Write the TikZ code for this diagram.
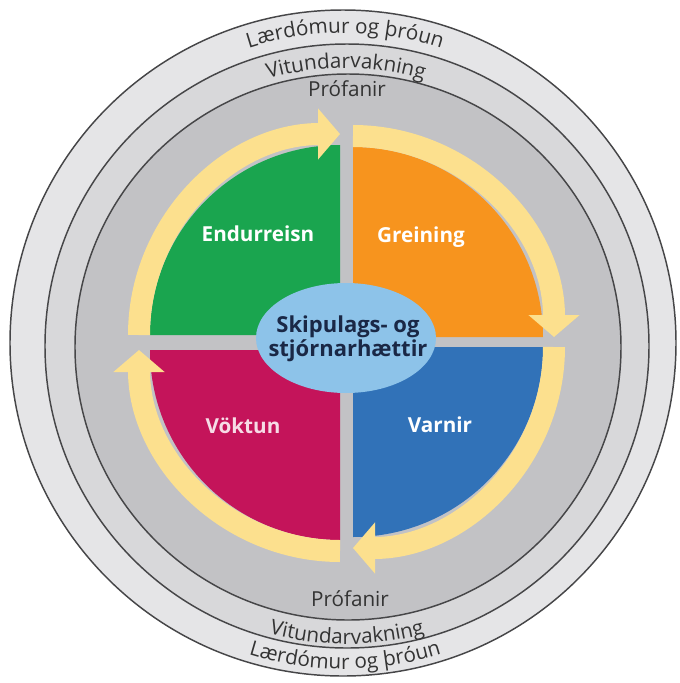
\documentclass[tikz,border=0pt]{standalone}
\usepackage{fontspec}
\setmainfont{Open Sans}
\usetikzlibrary{arrows.meta,decorations.text}

\definecolor{ringouter}{RGB}{229,229,231}
\definecolor{ringmid}{RGB}{216,216,218}
\definecolor{ringinner}{RGB}{194,194,197}
\definecolor{ringline}{RGB}{70,70,72}
\definecolor{qgreen}{RGB}{26,165,79}
\definecolor{qorange}{RGB}{247,148,30}
\definecolor{qblue}{RGB}{49,114,184}
\definecolor{qmagenta}{RGB}{196,20,90}
\definecolor{cyclearrow}{RGB}{252,224,142}
\definecolor{hubfill}{RGB}{141,195,233}
\definecolor{hubtext}{RGB}{26,40,70}

\tikzset{every picture/.style={line width=0.75pt}}
\tikzset{
  ring/.style={draw=ringline, line width=1.1pt},
  cyclearc/.style={draw=cyclearrow, line width=16.5pt,
    -{Triangle[length=16.5pt,width=37.5pt]}},
  quadlabel/.style={font=\fontsize{15.5}{18}\selectfont\bfseries, text=white, inner sep=0.75pt},
  ringtext/.style={decorate, decoration={text along path, text align=center,
    text color=black!80}},
}
\newcommand{\ringfont}{\fontsize{15.5}{17}\selectfont}

\begin{document}
\begin{tikzpicture}[x=0.75pt,y=0.75pt,yscale=-1,xscale=1]
\useasboundingbox (0,0) rectangle (680,683);

%Rings
\draw [ring, fill=ringouter] (343,343) circle [radius=333];
\draw [ring, fill=ringmid] (347,346) circle [radius=302];
\draw [ring, fill=ringinner] (348,347) circle [radius=273];

%Quadrants
\fill [qgreen] (340,335) -- ++(180:190) arc [start angle=180, end angle=270, radius=190] -- cycle;
\fill [qorange] (353,337) -- ++(270:190) arc [start angle=270, end angle=360, radius=190] -- cycle;
\fill [qblue] (353,347) -- ++(0:190) arc [start angle=0, end angle=90, radius=190] -- cycle;
\fill [qmagenta] (340,350) -- ++(90:190) arc [start angle=90, end angle=180, radius=190] -- cycle;

%Cycle arrows
\draw [cyclearc] (340,335) ++(180:201) arc [start angle=180, end angle=270, radius=201];
\draw [cyclearc] (353,337) ++(270:201) arc [start angle=270, end angle=360, radius=201];
\draw [cyclearc] (353,347) ++(0:201) arc [start angle=0, end angle=90, radius=201];
\draw [cyclearc] (340,350) ++(90:201) arc [start angle=90, end angle=180, radius=201];

%Hub
\draw [fill=hubfill, draw=none] (346,338) ellipse [x radius=90, y radius=55];
\node [inner sep=0.75pt, align=center, text=hubtext, font=\fontsize{16.5}{18}\selectfont\bfseries] (hub) at (348,339) {Skipulags- og\\stjórnarhættir};

\node [quadlabel] (endurreisn) at (258,234) {Endurreisn};
\node [quadlabel] (greining) at (421,237) {Greining};
\node [quadlabel, text=white!85!qmagenta] (voktun) at (243,426) {Vöktun};
\node [quadlabel] (varnir) at (440,425) {Varnir};

%Ring labels, top
\path [ringtext, decoration={text={|\ringfont|Lærdómur og þróun}}] (345,345) ++(225:312) arc [start angle=225, end angle=315, radius=312];
\path [ringtext, decoration={text={|\ringfont|Vitundarvakning}}] (346,346) ++(225:278) arc [start angle=225, end angle=315, radius=278];
\node [font=\ringfont, text=black!80, inner sep=0.75pt] (test_top) at (347,89) {Prófanir};

%Ring labels, bottom
\node [font=\ringfont, text=black!80, inner sep=0.75pt] (test_bottom) at (350,599) {Prófanir};
\path [ringtext, decoration={text={|\ringfont|Vitundarvakning}}] (347,346) ++(135:298) arc [start angle=135, end angle=45, radius=298];
\path [ringtext, decoration={text={|\ringfont|Lærdómur og þróun}}] (345,345) ++(135:324) arc [start angle=135, end angle=45, radius=324];

\end{tikzpicture}
\end{document}
